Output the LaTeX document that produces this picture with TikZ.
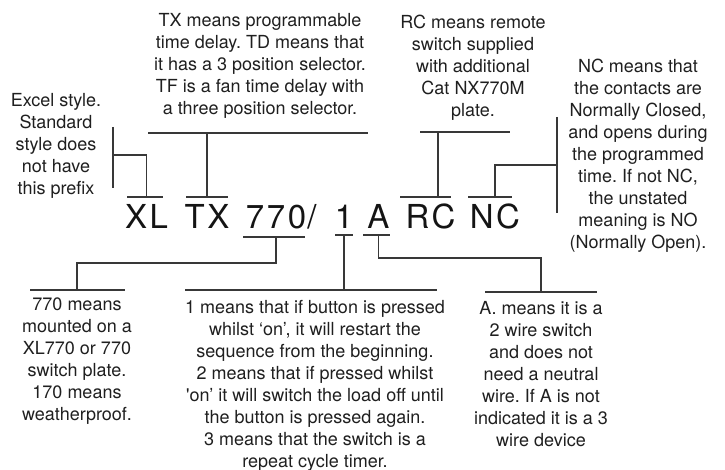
\documentclass[tikz,border=0pt]{standalone}
\usepackage{fontspec}
\setmainfont{TeX Gyre Heros}
\newfontfamily\codefont[LetterSpace=8]{TeX Gyre Heros}
\frenchspacing

\begin{document}
\begin{tikzpicture}[x=1pt, y=-1pt,
    note/.style={align=center, inner sep=0pt, anchor=north, text=black!88,
      font=\fontsize{18}{22}\selectfont},
    part/.style={inner sep=0pt, anchor=base, text=black!92,
      font=\codefont\fontsize{33}{36}\selectfont},
    rule/.style={line width=1.2pt, draw=black!78}]
  \useasboundingbox (0,0) rectangle (725,470);

  \node[part] (xl) at (146.5,229) {XL};
  \node[part] (tx) at (207,229) {TX};
  \node[part] (n770) at (276,229) {770};
  \node[part] (slash) at (312,229) {/};
  \node[part] (one) at (344,229) {1};
  \node[part] (a) at (378.5,229) {A};
  \node[part] (rc) at (430.5,229) {RC};
  \node[part] (nc) at (495,229) {NC};

  \node[note] (excel) at (56,93) {Excel style.\\Standard\\style does\\not have\\this prefix};
  \node[note] (txdesc) at (260,13) {TX means programmable\\time delay. TD means that\\it has a 3 position selector.\\TF is a fan time delay with\\a three position selector.};
  \node[note] (rcdesc) at (473,15) {RC means remote\\switch supplied\\with additional\\Cat NX770M\\plate.};
  \node[note] (ncdesc) at (638,59) {NC means that\\the contacts are\\Normally Closed,\\and opens during\\the programmed\\time. If not NC,\\the unstated\\meaning is NO\\(Normally Open).};
  \node[note] (d770) at (77,298) {770 means\\mounted on a\\XL770 or 770\\switch plate.\\170 means\\weatherproof.};
  \node[note] (d1) at (315,300) {1 means that if button is pressed\\whilst ‘on’, it will restart the\\sequence from the beginning.\\2 means that if pressed whilst\\\textquotesingle on’ it will switch the load off until\\the button is pressed again.\\3 means that the switch is a\\repeat cycle timer.};
  \node[note] (da) at (541,301) {A. means it is a\\2 wire switch\\and does not\\need a neutral\\wire. If A is not\\indicated it is a 3\\wire device};

  \coordinate (xl-l) at (127,197);
  \coordinate (xl-r) at (163,197);
  \coordinate (excel-t) at (113,127);
  \coordinate (excel-b) at (113,188);
  \coordinate (excel-k) at (113,155);
  \draw[rule] (xl-l) -- (xl-r);
  \draw[rule] (excel-t) -- (excel-b);
  \draw[rule] (xl-l -| xl) |- (excel-k);

  \coordinate (tx-l) at (186,197);
  \coordinate (tx-r) at (228,197);
  \coordinate (txdesc-l) at (148,133);
  \coordinate (txdesc-r) at (368,133);
  \draw[rule] (tx-l) -- (tx-r);
  \draw[rule] (txdesc-l) -- (txdesc-r);
  \draw[rule] (tx-l -| tx) -- (txdesc-l -| tx);

  \coordinate (rc-l) at (400,197);
  \coordinate (rc-r) at (451,197);
  \coordinate (rcdesc-l) at (420,132);
  \coordinate (rcdesc-r) at (510,132);
  \coordinate (rc-s) at (438,132);
  \draw[rule] (rc-l) -- (rc-r);
  \draw[rule] (rcdesc-l) -- (rcdesc-r);
  \draw[rule] (rc-s) -- (rc-s |- rc-l);

  \coordinate (nc-l) at (468,197);
  \coordinate (nc-r) at (512,197);
  \coordinate (ncdesc-t) at (557,117);
  \coordinate (ncdesc-b) at (557,213);
  \coordinate (ncdesc-k) at (557,165);
  \draw[rule] (nc-l) -- (nc-r);
  \draw[rule] (ncdesc-t) -- (ncdesc-b);
  \draw[rule] (nc-l -| nc) |- (ncdesc-k);

  \coordinate (u770-l) at (243,237);
  \coordinate (u770-r) at (305,237);
  \coordinate (d770-l) at (30,290);
  \coordinate (d770-r) at (125,290);
  \draw[rule] (u770-l) -- (u770-r);
  \draw[rule] (d770-l) -- (d770-r);
  \draw[rule] (u770-l -| n770) -- ++(0,26) -| (d770-l -| d770);

  \coordinate (u1-l) at (335,235);
  \coordinate (u1-r) at (353,235);
  \coordinate (d1-l) at (185,290);
  \coordinate (d1-r) at (437,290);
  \draw[rule] (u1-l) -- (u1-r);
  \draw[rule] (d1-l) -- (d1-r);
  \draw[rule] (u1-l -| one) -- (d1-l -| one);

  \coordinate (ua-l) at (363,235);
  \coordinate (ua-r) at (390,235);
  \coordinate (da-l) at (485,292);
  \coordinate (da-r) at (597,292);
  \draw[rule] (ua-l) -- (ua-r);
  \draw[rule] (da-l) -- (da-r);
  \draw[rule] (ua-l -| a) -- ++(0,23) -| (da-l -| da);
\end{tikzpicture}
\end{document}
